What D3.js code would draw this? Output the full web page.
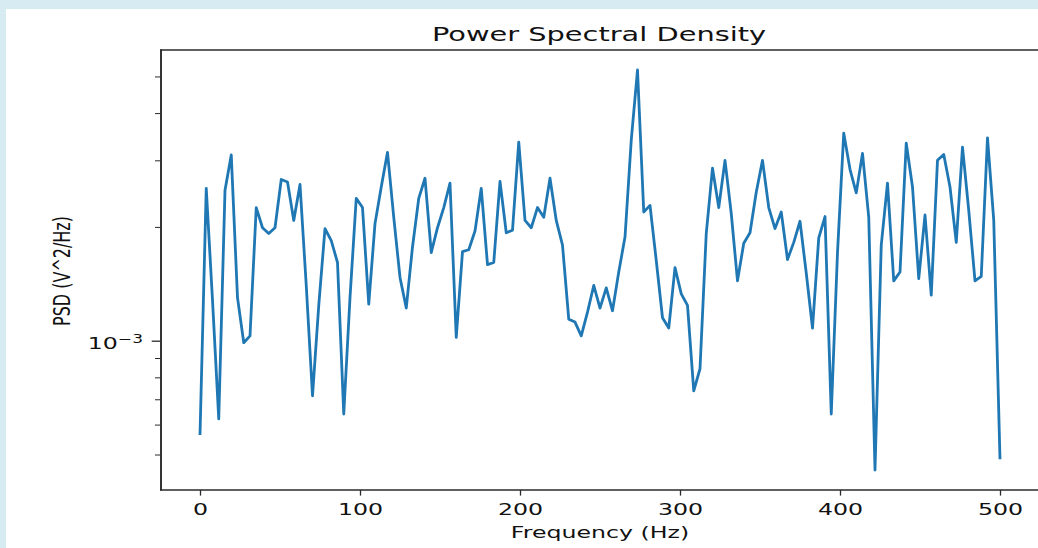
<!DOCTYPE html>
<meta charset="utf-8">
<head>
	<title>Power Spectral Density</title>
	<script src="https://d3js.org/d3.v7.min.js"></script>
	<style>
		body { margin: 0; background: #d7ebf2; overflow: hidden; }
		text { font-family: "DejaVu Sans", sans-serif; fill: #111; }
	</style>
</head>

<body>
<script>

	// PSD estimate, one value per frequency bin (V^2/Hz)
	const psd = [
		5.63e-4, 2.53e-3, 1.28e-3, 6.21e-4, 2.50e-3, 3.10e-3, 1.30e-3, 9.88e-4, 1.03e-3, 2.25e-3,
		1.99e-3, 1.92e-3, 1.99e-3, 2.67e-3, 2.63e-3, 2.08e-3, 2.59e-3, 1.40e-3, 7.15e-4, 1.24e-3,
		1.98e-3, 1.84e-3, 1.61e-3, 6.40e-4, 1.30e-3, 2.38e-3, 2.25e-3, 1.25e-3, 2.04e-3, 2.55e-3,
		3.15e-3, 2.12e-3, 1.47e-3, 1.22e-3, 1.77e-3, 2.38e-3, 2.69e-3, 1.71e-3, 1.99e-3, 2.25e-3,
		2.61e-3, 1.02e-3, 1.72e-3, 1.74e-3, 1.95e-3, 2.53e-3, 1.59e-3, 1.61e-3, 2.64e-3, 1.93e-3,
		1.96e-3, 3.35e-3, 2.08e-3, 1.99e-3, 2.25e-3, 2.12e-3, 2.69e-3, 2.08e-3, 1.79e-3, 1.14e-3,
		1.12e-3, 1.03e-3, 1.19e-3, 1.40e-3, 1.22e-3, 1.38e-3, 1.20e-3, 1.52e-3, 1.88e-3, 3.39e-3,
		5.20e-3, 2.19e-3, 2.28e-3, 1.63e-3, 1.15e-3, 1.08e-3, 1.56e-3, 1.33e-3, 1.24e-3, 7.37e-4,
		8.43e-4, 1.92e-3, 2.86e-3, 2.25e-3, 3.00e-3, 2.17e-3, 1.44e-3, 1.81e-3, 1.93e-3, 2.47e-3,
		3.00e-3, 2.25e-3, 1.98e-3, 2.19e-3, 1.64e-3, 1.82e-3, 2.07e-3, 1.51e-3, 1.08e-3, 1.87e-3,
		2.13e-3, 6.40e-4, 1.71e-3, 3.54e-3, 2.84e-3, 2.46e-3, 3.13e-3, 2.12e-3, 4.55e-4, 1.79e-3,
		2.61e-3, 1.44e-3, 1.52e-3, 3.33e-3, 2.55e-3, 1.46e-3, 2.15e-3, 1.32e-3, 3.00e-3, 3.11e-3,
		2.55e-3, 1.82e-3, 3.25e-3, 2.21e-3, 1.44e-3, 1.48e-3, 3.44e-3, 2.08e-3, 4.86e-4
	];
	// bins run from 0 Hz to Nyquist (fs = 1000 Hz)
	const nyquist = 500;
	const freqs = psd.map((d, i) => i * nyquist / (psd.length - 1));

	const xTicks = [0, 100, 200, 300, 400, 500];
	const yMajorTicks = [1e-3];
	const yMinorTicks = [4e-4, 5e-4, 6e-4, 7e-4, 8e-4, 9e-4, 2e-3, 3e-3, 4e-3, 5e-3, 6e-3];

	const titleText = 'Power Spectral Density';
	const xLabel = 'Frequency (Hz)';
	const yLabel = 'PSD (V^2/Hz)';

	// the reference picture is stretched sideways
	const sx = 1.48;
	const width = 1038, height = 548;
	const plot = {left: 160, right: 1040, top: 50, bottom: 490};
	const ink = '#2a2a2a';

	var svg = d3.select('body')
		.append('svg')
		.attr('width', width)
		.attr('height', height);

	svg.append('rect')
		.attr('x', 6)
		.attr('y', 9)
		.attr('width', width - 6)
		.attr('height', height - 9)
		.attr('fill', '#fff');

	// matplotlib style 5% margins
	const xExt = d3.extent(freqs);
	const xPad = (xExt[1] - xExt[0]) * 0.05;
	var x = d3.scaleLinear()
		.domain([xExt[0] - xPad, xExt[1] + xPad])
		.range([plot.left, plot.right]);

	const lExt = d3.extent(psd).map(Math.log10);
	const lPad = (lExt[1] - lExt[0]) * 0.05;
	var y = d3.scaleLog()
		.domain([Math.pow(10, lExt[0] - lPad), Math.pow(10, lExt[1] + lPad)])
		.range([plot.bottom, plot.top]);

	const yDom = y.domain();
	const inY = v => v >= yDom[0] && v <= yDom[1];

	// x axis
	var xAxis = svg.append('g')
		.attr('transform', `translate(0,${plot.bottom})`)
		.call(d3.axisBottom(x).tickValues(xTicks).tickSize(5.6).tickPadding(8.4).tickFormat(d3.format('d')));
	xAxis.select('.domain').remove();
	xAxis.selectAll('line').attr('stroke', ink).attr('stroke-width', 1.3);
	xAxis.selectAll('text')
		.attr('font-size', 16)
		.attr('fill', '#111')
		.attr('transform', `scale(${sx},1)`)
		.attr('x', 0);

	// y axis, minor ticks
	var yMinor = svg.append('g')
		.attr('transform', `translate(${plot.left},0)`)
		.call(d3.axisLeft(y).tickValues(yMinorTicks.filter(inY)).tickSize(5).tickFormat(''));
	yMinor.select('.domain').remove();
	yMinor.selectAll('line').attr('stroke', ink).attr('stroke-width', 1);

	// y axis, major ticks
	var yMajor = svg.append('g')
		.attr('transform', `translate(${plot.left},0)`)
		.call(d3.axisLeft(y).tickValues(yMajorTicks.filter(inY)).tickSize(8.3).tickFormat(''));
	yMajor.select('.domain').remove();
	yMajor.selectAll('line').attr('stroke', ink).attr('stroke-width', 1.3);

	yMajorTicks.filter(inY).forEach(v => {
		var t = svg.append('text')
			.attr('transform', `translate(${plot.left - 17},${y(v) + 8}) scale(${sx},1)`)
			.attr('text-anchor', 'end')
			.attr('font-size', 16);
		t.append('tspan').text('10');
		t.append('tspan')
			.attr('font-size', 11.5)
			.attr('dy', -6)
			.text('\u2212' + Math.round(-Math.log10(v)));
	});

	// the PSD line
	var line = d3.line()
		.x((d, i) => x(freqs[i]))
		.y(d => y(d));

	svg.append('path')
		.datum(psd)
		.attr('d', line)
		.attr('fill', 'none')
		.attr('stroke', '#1f77b4')
		.attr('stroke-width', 2.8)
		.attr('stroke-linejoin', 'round');

	// spines
	svg.append('line')
		.attr('x1', plot.left).attr('x2', plot.right)
		.attr('y1', plot.top).attr('y2', plot.top)
		.attr('stroke', ink).attr('stroke-width', 1.3);
	svg.append('line')
		.attr('x1', plot.left).attr('x2', plot.right)
		.attr('y1', plot.bottom).attr('y2', plot.bottom)
		.attr('stroke', ink).attr('stroke-width', 1.3);
	svg.append('line')
		.attr('x1', plot.left + 1).attr('x2', plot.left + 1)
		.attr('y1', plot.top - 0.6).attr('y2', plot.bottom + 0.6)
		.attr('stroke', ink).attr('stroke-width', 1.9);

	// title and labels
	svg.append('text')
		.attr('transform', `translate(${(plot.left + plot.right) / 2 - 1},41) scale(${sx},1)`)
		.attr('text-anchor', 'middle')
		.attr('font-size', 19.5)
		.text(titleText);

	svg.append('text')
		.attr('transform', `translate(${(plot.left + plot.right) / 2},538) scale(${sx},1)`)
		.attr('text-anchor', 'middle')
		.attr('font-size', 16)
		.text(xLabel);

	svg.append('text')
		.attr('transform', `translate(70,${(plot.top + plot.bottom) / 2 + 1}) scale(${sx},1) rotate(-90)`)
		.attr('text-anchor', 'middle')
		.attr('font-size', 16)
		.text(yLabel);

</script>
</body>
</html>
